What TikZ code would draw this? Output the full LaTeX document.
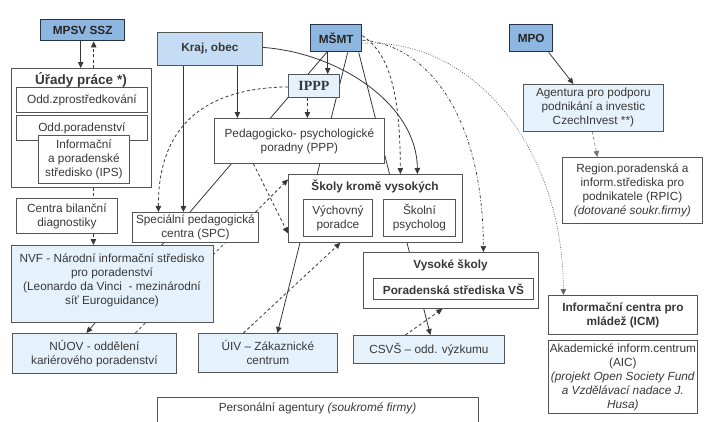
\documentclass[tikz,border=0pt]{standalone}
\usepackage{fontspec}
\setmainfont{Liberation Sans}
\newfontfamily\serifbold{Liberation Serif}
\usetikzlibrary{arrows.meta}
\pgfdeclarelayer{bg}
\pgfsetlayers{bg,main}
\definecolor{ink}{HTML}{383838}
\definecolor{edge}{HTML}{555555}
\definecolor{darkblue}{HTML}{8DB6E0}
\definecolor{midblue}{HTML}{C4DDF4}
\definecolor{paleblue}{HTML}{E6F2FB}
\definecolor{bordblue}{HTML}{26334A}
\newcommand\myfs{\fontsize{11.8}{14}\selectfont}
\begin{document}
\begin{tikzpicture}[x=1pt,y=-1pt,
  every node/.style={font=\myfs, text=ink},
  box/.style={draw=edge, line width=0.8pt, fill=white, inner sep=0pt, anchor=north west, align=center},
  topbox/.style={box, fill=darkblue, draw=bordblue, line width=1.4pt, font=\myfs\bfseries, text=black!85},
  ln/.style={draw=ink, line width=0.8pt},
  dsh/.style={ln, dash pattern=on 3pt off 2.5pt},
  dshdot/.style={ln, line width=0.7pt, dash pattern=on 3pt off 2pt on 0.8pt off 2pt},
  dotln/.style={draw=ink!80, line width=0.6pt, dash pattern=on 1pt off 1.4pt},
  arrowed/.style={-{Triangle[length=6pt,width=5.5pt]}}
]
\clip (0,0) rectangle (707,421);
\begin{pgfonlayer}{bg}
\fill[white] (0,0) rectangle (707,421);
\end{pgfonlayer}

% top row
\node[topbox, minimum width=84pt, minimum height=21pt] (mpsv) at (40,19) {MPSV SSZ};
\node[box, fill=midblue, minimum width=105pt, minimum height=33pt, font=\myfs\bfseries] (kraj) at (157,32) {Kraj, obec};
\node[topbox, minimum width=51pt, minimum height=27pt] (msmt) at (310,24) {MŠMT};
\node[topbox, minimum width=43pt, minimum height=27pt] (mpo) at (509,24) {MPO};
\node[box, fill=paleblue, minimum width=51pt, minimum height=23pt, font=\serifbold\bfseries\fontsize{14}{16}\selectfont] (ippp) at (288,74) {IPPP};
\node[box, minimum width=170pt, minimum height=45pt] (ppp) at (214,118) {Pedagogicko- psychologické\\poradny (PPP)};

% left column
\node[box, minimum width=140pt, minimum height=119pt] (urady) at (11,68) {};
\node[font=\fontsize{13.5}{16}\selectfont\bfseries] (uradyt) at (81,80) {Úřady práce *)};
\node[box, minimum width=131pt, minimum height=25pt] (oddz) at (16,87) {Odd.zprostředkování};
\node[box, minimum width=131pt, minimum height=25pt] (oddp) at (16,115) {Odd.poradenství};
\node[box, minimum width=91pt, minimum height=48pt] (ips) at (38,135) {Informační\\a poradenské\\středisko (IPS)};
\node[box, minimum width=101pt, minimum height=35pt] (cbd) at (16,198) {Centra bilanční\\diagnostiky};
\node[box, minimum width=126pt, minimum height=30pt] (spc) at (132,212) {Speciální pedagogická\\centra (SPC)};
\node[box, fill=paleblue, minimum width=202pt, minimum height=77pt] (nvf) at (11,245) {};
\node[align=center] (nvft) at (112,280) {NVF - Národní informační středisko\\pro poradenství\\(Leonardo da Vinci \ - mezinárodní\\síť Euroguidance)};
\node[box, fill=paleblue, minimum width=164pt, minimum height=40pt] (nuov) at (12,333) {NÚOV - oddělení\\kariérového poradenství};
\node[box, fill=paleblue, minimum width=139pt, minimum height=39pt] (uiv) at (198,333) {ÚIV – Zákaznické\\centrum};

% middle
\node[box, minimum width=174pt, minimum height=68pt] (skoly) at (288,174) {};
\node[font=\myfs\bfseries] (skolyt) at (375,186) {Školy kromě vysokých};
\node[box, minimum width=69pt, minimum height=37pt] (vych) at (303,199) {Výchovný\\poradce};
\node[box, minimum width=72pt, minimum height=37pt] (spsy) at (383,199) {Školní\\psycholog};
\node[box, minimum width=175pt, minimum height=56pt] (vs) at (363,252) {};
\node[font=\myfs\bfseries] (vst) at (450.5,265) {Vysoké školy};
\node[box, minimum width=160pt, minimum height=21pt, font=\myfs\bfseries] (porvs) at (373,278) {Poradenská střediska VŠ};
\node[box, fill=paleblue, minimum width=151pt, minimum height=28pt] (csvs) at (353,335) {CSVŠ – odd. výzkumu};
\node[box, minimum width=321pt, minimum height=40pt] (pers) at (157,397) {};
\node (perst) at (317.5,408) {Personální agentury \textit{(soukromé firmy)}};

% right
\node[box, fill=paleblue, minimum width=140pt, minimum height=47pt] (agent) at (523,84) {Agentura pro podporu\\podnikání a investic\\CzechInvest **)};
\node[box, minimum width=140pt, minimum height=66pt] (rpic) at (562,157) {Region.poradenská a\\inform.střediska pro\\podnikatele (RPIC)\\\textit{(dotované soukr.firmy)}};
\node[box, minimum width=149pt, minimum height=39pt, font=\myfs\bfseries] (icm) at (548,295) {Informační centra pro\\mládež (ICM)};
\node[box, minimum width=149pt, minimum height=73pt] (aic) at (548,340) {Akademické inform.centrum\\(AIC)\\\textit{(projekt Open Society Fund}\\\textit{a Vzdělávací nadace J.}\\\textit{Husa)}};

\begin{pgfonlayer}{bg}
% MPSV / Urady
\draw[ln, arrowed] ([xshift=-2]mpsv.south) -- ([xshift=-2]mpsv.south |- urady.north);
\draw[dsh, arrowed] ([xshift=11]mpsv.south |- urady.north) -- ([xshift=11]mpsv.south);
\draw[dsh] ([xshift=12]urady.south) -- ([xshift=12]urady.south |- cbd.north);
\draw[dsh, arrowed] ([xshift=26.5]cbd.south) -- ([xshift=26.5]cbd.south |- nvf.north);
% Kraj
\draw[ln, arrowed] ([xshift=-26.5]kraj.south) -- ([xshift=-26.5]kraj.south |- spc.north);
\draw[ln, arrowed] ([xshift=27.5]kraj.south) -- ([xshift=27.5]kraj.south |- ppp.north);
\draw[ln, arrowed] ([yshift=1.5]kraj.east) .. controls (340,53) and (417,105) .. ([xshift=42]skoly.north);
% MSMT
\draw[ln, arrowed] ([xshift=-8.5]msmt.south) -- ([xshift=-8.5]msmt.south |- ippp.north);
\draw[ln, arrowed] ([xshift=-9.5]msmt.south) -- ([xshift=-8]nuov.north);
\draw[ln, arrowed] ([xshift=11.5]msmt.south) -- ([xshift=9.5]uiv.north);
\draw[ln, arrowed] ([xshift=22.5]msmt.south) -- ([xshift=1.5]csvs.north);
\draw[dsh, arrowed] ([yshift=2.5]msmt.east) .. controls (392,55) and (400,100) .. ([xshift=25]skoly.north);
\draw[dshdot, arrowed] ([yshift=-2]msmt.east) .. controls (430,45) and (483,120) .. ([xshift=32.5]vs.north);
\draw[dotln, arrowed] ([yshift=-5]msmt.east) .. controls (475,38) and (563,150) .. ([xshift=-59.5]icm.north);
% IPPP
\draw[dsh, arrowed] ([xshift=-6.5]ippp.south) -- ([xshift=-6.5]ippp.south |- ppp.north);
\draw[dsh, arrowed] ([yshift=-1]ippp.west) .. controls (200,88) and (158,130) .. ([xshift=-37]spc.north);
% to Skoly
\draw[dsh, arrowed] ([xshift=-46]ppp.south) -- ([yshift=-25]skoly.west);
\draw[dsh, arrowed] ([xshift=41]nuov.north) -- ([yshift=29]skoly.west);
\draw[dsh, arrowed] ([xshift=-24.5]uiv.north) -- ([xshift=-35]skoly.south);
\draw[dsh, arrowed] ([xshift=-23.5]csvs.north) -- ([xshift=-8.5]vs.south);
% MPO
\draw[ln, arrowed] ([xshift=17.5]mpo.south) -- ([xshift=-20]agent.north);
\draw[dsh, draw=ink!70, line width=0.6pt, arrowed] ([xshift=-1]agent.south) -- ([xshift=-35]rpic.north);
\end{pgfonlayer}
\end{tikzpicture}
\end{document}
